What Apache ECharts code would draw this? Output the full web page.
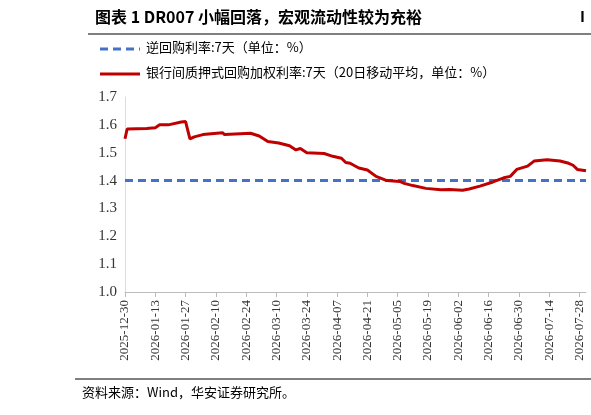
<!DOCTYPE html><html><head><meta charset="utf-8"><script src="https://cdn.jsdelivr.net/npm/echarts@6/dist/echarts.min.js"></script>
<style>body{margin:0}#c{width:591px;height:415px}</style></head><body><div id="c"></div><script>
const startDate='2025-12-30', nDays=214;
const readDays=[0,1,10,14,16,20,26,28,30,32,36,45,46,58,62,66,71,76,79,81,84,92,96,100,102,104,108,112,116,121,127,129,133,139,146,150,156,159,164,170,175,178,181,186,189,195,201,205,207,209,213];
const readVals=[1.55,1.585,1.587,1.59,1.60,1.60,1.61,1.612,1.55,1.557,1.565,1.572,1.565,1.57,1.56,1.54,1.535,1.525,1.51,1.515,1.50,1.497,1.487,1.48,1.465,1.462,1.445,1.438,1.415,1.40,1.397,1.39,1.382,1.372,1.367,1.368,1.365,1.37,1.38,1.395,1.41,1.415,1.44,1.452,1.47,1.475,1.47,1.462,1.455,1.44,1.435];
const repoRate=1.4;
const yTicks=[1.0,1.1,1.2,1.3,1.4,1.5,1.6,1.7];
const cats=[];const d0=new Date(startDate+'T00:00:00Z');
for(let i=0;i<nDays;i++){const d=new Date(d0.getTime()+i*86400000);cats.push(d.toISOString().slice(0,10));}
const c=echarts.init(document.getElementById('c'));
const ser=readDays.map((d,i)=>[cats[d],readVals[i]]);
c.setOption({animation:false,
graphic:[
{type:'text',left:95,top:9,style:{text:'图表 1 DR007 小幅回落，宏观流动性较为充裕',font:'bold 16px "Noto Sans CJK SC"',fill:'#000'}},
{type:'text',left:580,top:9,style:{text:'I',font:'bold 15px "Noto Sans CJK SC"',fill:'#000'}},
{type:'line',shape:{x1:88,y1:34,x2:591,y2:34},style:{stroke:'#000',lineWidth:1}},
{type:'line',shape:{x1:100,y1:49,x2:140,y2:49},style:{stroke:'#4472C4',lineWidth:3,lineDash:[8,5]}},
{type:'text',left:146,top:41,style:{text:'逆回购利率:7天（单位：%）',font:'13px "Noto Sans CJK SC"',fill:'#000'}},
{type:'line',shape:{x1:100,y1:74,x2:140,y2:74},style:{stroke:'#C00000',lineWidth:3}},
{type:'text',left:146,top:66,style:{text:'银行间质押式回购加权利率:7天（20日移动平均，单位：%）',font:'13px "Noto Sans CJK SC"',fill:'#000'}},
{type:'line',shape:{x1:75,y1:379,x2:591,y2:379},style:{stroke:'#000',lineWidth:1}},
{type:'text',left:82,top:386,style:{text:'资料来源：Wind，华安证券研究所。',font:'13px "Noto Sans CJK SC"',fill:'#000'}}
],
grid:{left:125,right:5,top:97,bottom:123},
xAxis:{type:'category',data:cats,boundaryGap:false,axisLine:{lineStyle:{color:'#bbb'}},axisTick:{show:true,interval:13,alignWithLabel:true,lineStyle:{color:'#bbb'}},
axisLabel:{interval:13,rotate:90,color:'#333',fontFamily:'Liberation Serif',fontSize:13}},
yAxis:{type:'value',min:1.0,max:1.7,interval:0.1,splitLine:{show:false},axisLine:{show:true,lineStyle:{color:'#ddd'}},
axisLabel:{color:'#333',fontFamily:'Liberation Serif',fontSize:15,formatter:v=>v.toFixed(1)}},
series:[
{type:'line',data:cats.map(d=>[d,repoRate]),symbol:'none',lineStyle:{color:'#4472C4',width:3,type:[8,5]}},
{type:'line',data:ser,symbol:'none',lineStyle:{color:'#C00000',width:3}}
]});
</script></body></html>
